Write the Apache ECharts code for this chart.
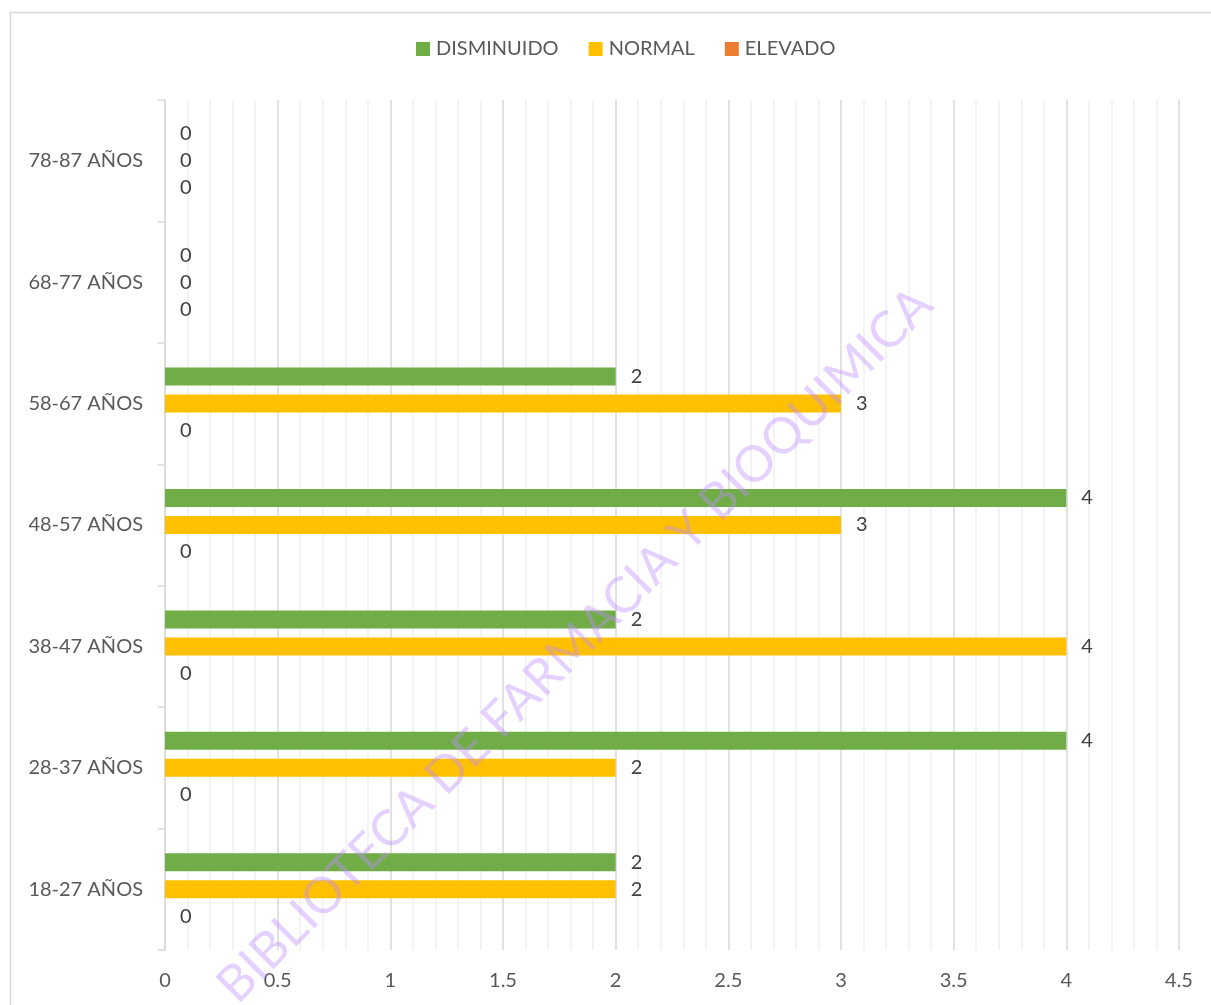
<!DOCTYPE html>
<html>
<head>
<meta charset="utf-8">
<script src="https://cdn.jsdelivr.net/npm/echarts@6/dist/echarts.min.js"></script>
<style>
  html, body { margin: 0; padding: 0; background: #fff; }
  #chart { width: 1211px; height: 1005px; }
</style>
</head>
<body>
<div id="chart"></div>
<script>
// categorias (de abajo hacia arriba)
const grupos = ['18-27 AÑOS', '28-37 AÑOS', '38-47 AÑOS', '48-57 AÑOS', '58-67 AÑOS', '68-77 AÑOS', '78-87 AÑOS'];
const disminuido = [2, 4, 2, 4, 2, 0, 0];
const normal = [2, 2, 4, 3, 3, 0, 0];
const elevado = [0, 0, 0, 0, 0, 0, 0];
const leyenda = ['DISMINUIDO', 'NORMAL', 'ELEVADO'];

const fuente = 'Lato, "Open Sans", sans-serif';
const chart = echarts.init(document.getElementById('chart'));

// serie comun, cambia nombre / datos / color
function serieBarra(nombre, datos, color) {
  return {
    name: nombre,
    type: 'bar',
    data: datos,
    barWidth: 18,
    barGap: '50%',
    itemStyle: { color: color },
    label: {
      show: true,
      position: 'right',
      distance: 15,
      color: '#404040',
      fontSize: 20,
      fontFamily: fuente
    }
  };
}

const option = {
  animation: false,
  legend: {
    data: leyenda,
    top: 34,
    left: 411,
    icon: 'rect',
    itemWidth: 14,
    itemHeight: 14,
    itemGap: 30,
    textStyle: { color: '#595959', fontSize: 20, fontFamily: fuente, padding: [0, 0, 0, 1] }
  },
  grid: { left: 165, right: 32, top: 100, bottom: 55, containLabel: false },
  xAxis: {
    type: 'value',
    min: 0,
    max: 4.5,
    interval: 0.5,
    axisLine: { show: false },
    axisTick: { show: false },
    axisLabel: { color: '#595959', fontSize: 20, fontFamily: fuente, margin: 21 },
    splitLine: { show: true, lineStyle: { color: '#d9d9d9', width: 1.5 } },
    minorTick: { show: false, splitNumber: 5 },
    minorSplitLine: { show: true, lineStyle: { color: '#f0f0f0', width: 1.5 } }
  },
  yAxis: {
    type: 'category',
    data: grupos,
    axisLine: { show: true, lineStyle: { color: '#d9d9d9', width: 1.5 } },
    axisTick: { show: true, length: 7, lineStyle: { color: '#d9d9d9', width: 1.5 } },
    axisLabel: { color: '#595959', fontSize: 20, fontFamily: fuente, margin: 22 }
  },
  series: [
    serieBarra('DISMINUIDO', disminuido, '#70AD47'),
    serieBarra('NORMAL', normal, '#FFC000'),
    serieBarra('ELEVADO', elevado, '#ED7D31')
  ],
  graphic: [
    {
      type: 'rect',
      left: 8,
      top: 10,
      shape: { width: 1300, height: 1100 },
      style: { fill: 'none', stroke: '#d9d9d9', lineWidth: 1.5 },
      silent: true,
      z: -10
    },
    {
      type: 'text',
      x: 575,
      y: 645,
      rotation: Math.PI / 4,
      style: {
        text: 'BIBLIOTECA DE FARMACIA Y BIOQUIMICA',
        fontSize: 50,
        fontFamily: fuente,
        fill: 'rgba(190, 140, 255, 0.4)',
        align: 'center',
        verticalAlign: 'middle'
      },
      silent: true,
      z: 100
    }
  ]
};

chart.setOption(option);
</script>
</body>
</html>
